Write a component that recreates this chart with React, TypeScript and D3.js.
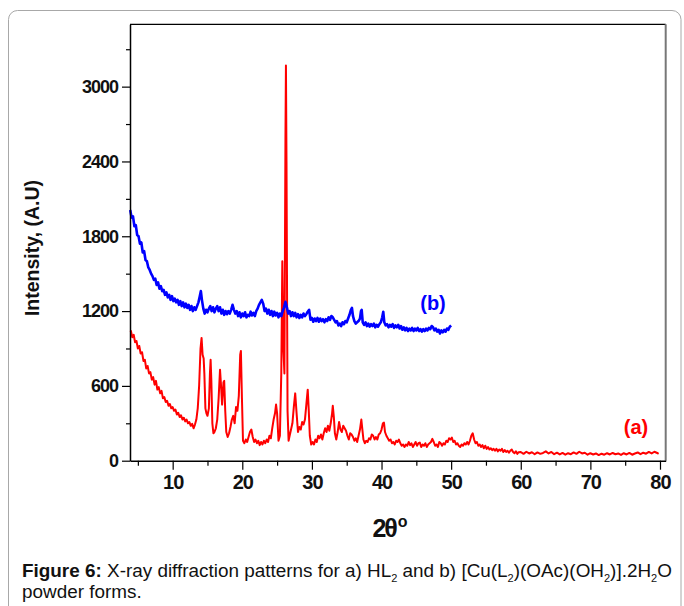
import * as d3 from "d3";
import React, { useEffect, useRef } from "react";

// (a) HL2 powder pattern, [2theta, intensity]
const patternA: [number, number][] = [
  [3.9, 1045], [4.0, 1040], [4.2, 990], [4.4, 1010], [4.6, 950], [4.8, 960], [5.0, 900], [5.2, 920], [5.4, 860],
  [5.6, 870], [5.8, 800], [6.0, 810], [6.2, 740], [6.4, 760], [6.6, 700], [6.8, 710], [7.0, 650], [7.2, 670],
  [7.4, 610], [7.6, 640], [7.8, 570], [8.0, 590], [8.2, 540], [8.4, 560], [8.6, 500], [8.8, 510], [9.0, 470],
  [9.2, 480], [9.4, 440], [9.6, 455], [9.8, 420], [10.0, 430], [10.2, 400], [10.4, 410], [10.6, 370], [10.8, 385],
  [11.0, 350], [11.2, 365], [11.4, 330], [11.6, 345], [11.8, 315], [12.0, 330], [12.2, 300], [12.4, 310], [12.6, 280],
  [12.8, 295], [13.0, 260], [13.2, 290], [13.4, 330], [13.6, 420], [13.8, 600], [14.0, 900], [14.15, 985], [14.3, 850],
  [14.45, 820], [14.55, 700], [14.7, 420], [14.85, 380], [15.0, 360], [15.2, 420], [15.35, 700], [15.45, 810],
  [15.55, 650], [15.7, 300], [15.85, 220], [16.0, 230], [16.2, 260], [16.4, 330], [16.6, 500], [16.8, 730],
  [16.95, 600], [17.1, 450], [17.3, 630], [17.4, 640], [17.55, 400], [17.7, 230], [17.9, 190], [18.1, 220],
  [18.3, 270], [18.5, 330], [18.7, 360], [18.9, 300], [19.1, 430], [19.3, 400], [19.5, 520], [19.7, 850], [19.8, 880],
  [19.95, 500], [20.1, 160], [20.3, 140], [20.5, 170], [20.7, 150], [20.9, 190], [21.1, 230], [21.3, 250], [21.5, 190],
  [21.7, 150], [21.9, 170], [22.1, 140], [22.3, 160], [22.5, 125], [22.7, 150], [22.9, 130], [23.1, 160], [23.3, 140],
  [23.5, 170], [23.7, 150], [23.9, 200], [24.1, 180], [24.3, 260], [24.5, 330], [24.7, 380], [24.85, 450], [25.0, 380],
  [25.2, 160], [25.4, 200], [25.6, 700], [25.75, 1600], [25.9, 900], [26.05, 700], [26.2, 2600], [26.27, 3170],
  [26.35, 2400], [26.5, 400], [26.65, 160], [26.8, 200], [27.0, 250], [27.2, 300], [27.4, 430], [27.6, 540],
  [27.8, 380], [28.0, 230], [28.2, 270], [28.4, 250], [28.6, 310], [28.8, 290], [29.0, 330], [29.2, 450], [29.4, 570],
  [29.55, 400], [29.7, 200], [29.9, 130], [30.1, 150], [30.3, 130], [30.5, 170], [30.7, 150], [30.9, 200], [31.1, 180],
  [31.3, 210], [31.5, 170], [31.7, 220], [31.9, 260], [32.1, 230], [32.3, 280], [32.5, 240], [32.7, 300], [32.9, 380],
  [33.0, 440], [33.15, 350], [33.3, 220], [33.5, 170], [33.7, 230], [33.9, 310], [34.1, 250], [34.3, 230], [34.5, 280],
  [34.7, 260], [34.9, 240], [35.1, 200], [35.3, 170], [35.5, 220], [35.7, 210], [35.9, 190], [36.1, 160], [36.3, 180],
  [36.5, 150], [36.7, 200], [36.9, 250], [37.1, 330], [37.25, 250], [37.4, 170], [37.6, 140], [37.8, 160], [38.0, 150],
  [38.2, 180], [38.4, 170], [38.6, 210], [38.8, 200], [39.0, 170], [39.2, 190], [39.4, 170], [39.6, 210], [39.8, 220],
  [40.0, 250], [40.2, 300], [40.35, 305], [40.5, 230], [40.7, 200], [40.9, 180], [41.1, 160], [41.3, 170], [41.5, 140],
  [41.7, 150], [41.9, 130], [42.1, 160], [42.3, 150], [42.5, 170], [42.7, 140], [42.9, 120], [43.1, 130], [43.3, 110],
  [43.5, 130], [43.7, 120], [43.9, 150], [44.1, 125], [44.3, 140], [44.5, 110], [44.7, 130], [44.9, 150], [45.1, 120],
  [45.3, 140], [45.5, 145], [45.7, 110], [45.9, 130], [46.1, 120], [46.3, 140], [46.5, 110], [46.7, 130], [46.9, 140],
  [47.1, 150], [47.3, 175], [47.5, 150], [47.7, 120], [47.9, 130], [48.1, 110], [48.3, 150], [48.5, 140], [48.7, 120],
  [48.9, 140], [49.1, 130], [49.3, 160], [49.5, 150], [49.7, 180], [49.9, 170], [50.1, 185], [50.3, 150], [50.5, 160],
  [50.7, 130], [50.9, 140], [51.1, 120], [51.3, 110], [51.5, 130], [51.7, 120], [51.9, 140], [52.1, 130], [52.3, 150],
  [52.5, 130], [52.7, 160], [52.9, 200], [53.1, 220], [53.3, 170], [53.5, 140], [53.7, 150], [53.9, 120], [54.1, 130],
  [54.3, 110], [54.5, 125], [54.7, 100], [54.9, 120], [55.1, 95], [55.3, 110], [55.5, 90], [55.7, 100], [55.9, 85],
  [56.1, 95], [56.3, 80], [56.5, 95], [56.7, 75], [56.9, 90], [57.1, 80], [57.3, 95], [57.5, 70], [57.7, 85], [57.9, 70],
  [58.1, 80], [58.3, 65], [58.5, 80], [58.7, 90], [58.9, 70], [59.1, 60], [59.3, 75], [59.5, 55], [59.7, 68], [60.0, 70],
  [60.4, 55], [60.8, 72], [61.2, 58], [61.6, 68], [62.0, 52], [62.4, 66], [62.8, 55], [63.2, 62], [63.6, 75], [64.0, 58],
  [64.4, 70], [64.8, 52], [65.2, 64], [65.6, 50], [66.0, 62], [66.4, 48], [66.8, 60], [67.2, 52], [67.6, 66], [68.0, 55],
  [68.4, 72], [68.8, 58], [69.2, 64], [69.6, 48], [70.0, 60], [70.4, 50], [70.8, 58], [71.2, 45], [71.6, 56], [72.0, 48],
  [72.4, 60], [72.8, 50], [73.2, 62], [73.6, 52], [74.0, 58], [74.4, 46], [74.8, 60], [75.2, 50], [75.6, 62], [76.0, 48],
  [76.4, 58], [76.8, 66], [77.2, 52], [77.6, 64], [78.0, 56], [78.4, 70], [78.8, 58], [79.2, 72], [79.6, 62], [79.8, 55],
];

// (b) Cu complex pattern
const patternB: [number, number][] = [
  [3.9, 2010], [4.1, 1950], [4.3, 1960], [4.5, 1880], [4.7, 1890], [4.9, 1810], [5.1, 1800], [5.3, 1740], [5.5, 1750],
  [5.7, 1670], [5.9, 1680], [6.1, 1610], [6.3, 1600], [6.5, 1550], [6.7, 1530], [6.9, 1500], [7.1, 1480], [7.3, 1450],
  [7.5, 1460], [7.7, 1410], [7.9, 1430], [8.1, 1380], [8.3, 1400], [8.5, 1360], [8.7, 1370], [8.9, 1330], [9.1, 1350],
  [9.3, 1310], [9.5, 1330], [9.7, 1290], [9.9, 1320], [10.1, 1280], [10.3, 1300], [10.5, 1270], [10.7, 1290],
  [10.9, 1250], [11.1, 1280], [11.3, 1240], [11.5, 1270], [11.7, 1230], [11.9, 1260], [12.1, 1225], [12.3, 1250],
  [12.5, 1210], [12.7, 1240], [12.9, 1200], [13.1, 1230], [13.3, 1210], [13.5, 1240], [13.7, 1270], [13.9, 1320],
  [14.05, 1360], [14.2, 1290], [14.4, 1220], [14.6, 1180], [14.8, 1210], [15.0, 1190], [15.2, 1220], [15.4, 1240],
  [15.6, 1200], [15.8, 1230], [16.0, 1190], [16.2, 1220], [16.4, 1240], [16.6, 1200], [16.8, 1230], [17.0, 1180],
  [17.2, 1210], [17.4, 1170], [17.6, 1200], [17.8, 1175], [18.0, 1200], [18.2, 1180], [18.4, 1210], [18.6, 1250],
  [18.8, 1210], [19.0, 1180], [19.2, 1200], [19.4, 1160], [19.6, 1190], [19.8, 1150], [20.0, 1180], [20.2, 1160],
  [20.4, 1190], [20.6, 1150], [20.8, 1170], [21.0, 1160], [21.2, 1195], [21.4, 1165], [21.6, 1185], [21.8, 1160],
  [22.0, 1200], [22.2, 1220], [22.4, 1250], [22.6, 1270], [22.8, 1290], [23.0, 1260], [23.2, 1200], [23.4, 1220],
  [23.6, 1180], [23.8, 1210], [24.0, 1170], [24.2, 1200], [24.4, 1160], [24.6, 1195], [24.8, 1165], [25.0, 1185],
  [25.2, 1150], [25.4, 1180], [25.6, 1160], [25.8, 1200], [26.0, 1230], [26.2, 1275], [26.4, 1230], [26.6, 1180],
  [26.8, 1200], [27.0, 1160], [27.2, 1190], [27.4, 1160], [27.6, 1185], [27.8, 1150], [28.0, 1175], [28.2, 1145],
  [28.4, 1170], [28.6, 1150], [28.8, 1180], [29.0, 1160], [29.2, 1175], [29.4, 1195], [29.6, 1210], [29.8, 1130],
  [30.0, 1145], [30.2, 1115], [30.4, 1140], [30.6, 1120], [30.8, 1145], [31.0, 1115], [31.2, 1140], [31.4, 1120],
  [31.6, 1135], [31.8, 1110], [32.0, 1135], [32.2, 1120], [32.4, 1150], [32.6, 1130], [32.8, 1160], [33.0, 1150],
  [33.2, 1130], [33.4, 1110], [33.6, 1120], [33.8, 1085], [34.0, 1100], [34.2, 1080], [34.4, 1110], [34.6, 1095],
  [34.8, 1120], [35.0, 1110], [35.2, 1140], [35.4, 1170], [35.6, 1210], [35.75, 1225], [35.9, 1160], [36.1, 1120],
  [36.3, 1100], [36.5, 1110], [36.7, 1120], [36.9, 1140], [37.05, 1200], [37.15, 1210], [37.3, 1110], [37.5, 1090],
  [37.7, 1110], [37.9, 1080], [38.1, 1100], [38.3, 1075], [38.5, 1095], [38.7, 1080], [38.9, 1100], [39.1, 1070],
  [39.3, 1090], [39.5, 1075], [39.7, 1095], [39.9, 1110], [40.1, 1150], [40.25, 1195], [40.4, 1110], [40.6, 1085],
  [40.8, 1095], [41.0, 1070], [41.2, 1090], [41.4, 1075], [41.6, 1095], [41.8, 1065], [42.0, 1085], [42.2, 1070],
  [42.4, 1090], [42.6, 1060], [42.8, 1080], [43.0, 1050], [43.2, 1070], [43.4, 1045], [43.6, 1065], [43.8, 1040],
  [44.0, 1060], [44.2, 1045], [44.4, 1065], [44.6, 1040], [44.8, 1060], [45.0, 1045], [45.2, 1065], [45.4, 1040],
  [45.6, 1055], [45.8, 1035], [46.0, 1055], [46.2, 1040], [46.4, 1060], [46.6, 1045], [46.8, 1065], [47.0, 1055],
  [47.2, 1080], [47.4, 1070], [47.6, 1045], [47.8, 1060], [48.0, 1035], [48.2, 1050], [48.4, 1020], [48.6, 1045],
  [48.8, 1030], [49.0, 1050], [49.2, 1035], [49.4, 1060], [49.6, 1050], [49.8, 1075], [50.0, 1085],
];

const xMajorTicks = [10, 20, 30, 40, 50, 60, 70, 80];
const xMinorTicks = [5, 15, 25, 35, 45, 55, 65, 75];
const yMajorTicks = [0, 600, 1200, 1800, 2400, 3000];
const yMinorTicks = [300, 900, 1500, 2100, 2700, 3300];

// caption pieces: [text, style] where style is "b" bold, "s" subscript, "" normal
const captionLine1: [string, string][] = [
  ["Figure 6:", "b"], [" X-ray diffraction patterns for a) HL", ""], ["2", "s"],
  [" and b) [Cu(L", ""], ["2", "s"], [")(OAc)(OH", ""], ["2", "s"], [")].2H", ""], ["2", "s"], ["O", ""],
];
const captionLine2 = "powder forms.";

const FONT = "'Liberation Sans', Arial, sans-serif";

export default function App() {
  const ref = useRef<SVGSVGElement>(null);

  useEffect(() => {
    const svg = d3.select(ref.current);
    svg.selectAll("*").remove();

    const left = 130, right = 665.7, top = 24.3, bottom = 460.7;

    const x = d3.scaleLinear().domain([3.87, 80.82]).range([left, right]);
    const y = d3.scaleLinear().domain([0, 3500]).range([bottom, top]);

    // page frame
    svg.append("rect")
      .attr("x", 8.5).attr("y", 10.5)
      .attr("width", 672.5).attr("height", 640)
      .attr("rx", 9)
      .attr("fill", "none")
      .attr("stroke", "#a8a8a8")
      .attr("stroke-width", 1);

    const line = d3.line<[number, number]>()
      .x(d => x(d[0]))
      .y(d => y(d[1]));

    svg.append("path")
      .datum(patternA)
      .attr("fill", "none")
      .attr("stroke", "#ff0000")
      .attr("stroke-width", 2)
      .attr("stroke-linejoin", "round")
      .attr("d", line);

    svg.append("path")
      .datum(patternB)
      .attr("fill", "none")
      .attr("stroke", "#0000ff")
      .attr("stroke-width", 2.6)
      .attr("stroke-linejoin", "round")
      .attr("d", line);

    // box: top and right
    svg.append("line")
      .attr("x1", left).attr("x2", right).attr("y1", top).attr("y2", top)
      .attr("stroke", "#000").attr("stroke-width", 1.2);
    svg.append("line")
      .attr("x1", right).attr("x2", right).attr("y1", top).attr("y2", bottom)
      .attr("stroke", "#777").attr("stroke-width", 2);

    // x axis
    const xAxis = svg.append("g").attr("transform", `translate(0,${bottom})`)
      .call(d3.axisBottom(x).tickValues(xMajorTicks).tickSize(9).tickSizeOuter(0).tickFormat(d3.format("d")));
    xAxis.select(".domain").attr("stroke-width", 1.5);
    xAxis.selectAll("text")
      .attr("dy", 0).attr("y", 28)
      .style("font-family", FONT).style("font-size", "20px").style("font-weight", "bold")
      .style("letter-spacing", "-1px").attr("fill", "#111");
    xAxis.selectAll(".tick line").attr("stroke-width", 1.2);
    svg.append("g").attr("transform", `translate(0,${bottom})`)
      .call(d3.axisBottom(x).tickValues(xMinorTicks).tickSize(5).tickFormat(() => ""))
      .call(g => g.select(".domain").remove())
      .selectAll(".tick line").attr("stroke-width", 1.2);

    // y axis
    const yAxis = svg.append("g").attr("transform", `translate(${left},0)`)
      .call(d3.axisLeft(y).tickValues(yMajorTicks).tickSize(8).tickSizeOuter(0).tickFormat(d3.format("d")));
    yAxis.select(".domain").attr("stroke-width", 1.5);
    yAxis.selectAll(".tick line").attr("stroke-width", 1.2);
    yAxis.selectAll("text")
      .attr("x", -12)
      .style("font-family", FONT).style("font-size", "18px").style("font-weight", "bold")
      .style("letter-spacing", "-1px").attr("fill", "#111");
    svg.append("g").attr("transform", `translate(${left},0)`)
      .call(d3.axisLeft(y).tickValues(yMinorTicks).tickSize(4).tickFormat(() => ""))
      .call(g => g.select(".domain").remove())
      .selectAll(".tick line").attr("stroke-width", 1.2);

    // axis titles
    const xt = svg.append("text")
      .attr("x", 390).attr("y", 537)
      .attr("text-anchor", "middle")
      .style("font-family", FONT).style("font-size", "25px").style("font-weight", "bold")
      .style("letter-spacing", "-2px")
      .attr("fill", "#111");
    xt.append("tspan").text("2θ");
    xt.append("tspan").attr("dy", -10).attr("dx", 2).style("font-size", "16px").style("letter-spacing", "0px").text("o");

    svg.append("text")
      .attr("transform", "translate(39,248) rotate(-90)")
      .attr("text-anchor", "middle")
      .style("font-family", FONT).style("font-size", "19.5px").style("font-weight", "bold")
      .attr("fill", "#111")
      .text("Intensity, (A.U)");

    // series labels
    svg.append("text")
      .attr("x", 433).attr("y", 310)
      .attr("text-anchor", "middle")
      .style("font-family", FONT).style("font-size", "20px").style("font-weight", "bold")
      .attr("fill", "#0000ff")
      .text("(b)");
    svg.append("text")
      .attr("x", 636).attr("y", 434)
      .attr("text-anchor", "middle")
      .style("font-family", FONT).style("font-size", "20px").style("font-weight", "bold")
      .attr("fill", "#ff0000")
      .text("(a)");

    // caption
    const cap = svg.append("text")
      .attr("x", 22).attr("y", 577)
      .style("font-family", FONT).style("font-size", "18.9px")
      .attr("fill", "#111");
    let shifted = false;
    captionLine1.forEach(([t, kind]) => {
      const ts = cap.append("tspan").text(t);
      if (kind === "b") ts.style("font-weight", "bold");
      if (kind === "s") {
        ts.attr("dy", 5).style("font-size", "11px");
        shifted = true;
      } else if (shifted) {
        ts.attr("dy", -5);
        shifted = false;
      }
    });

    svg.append("text")
      .attr("x", 22).attr("y", 598)
      .style("font-family", FONT).style("font-size", "18.9px")
      .attr("fill", "#111")
      .text(captionLine2);
  }, []);

  return (
    <svg
      ref={ref}
      width={684}
      height={606}
      style={{ position: "absolute", left: 0, top: 0, background: "#fff" }}
    />
  );
}
